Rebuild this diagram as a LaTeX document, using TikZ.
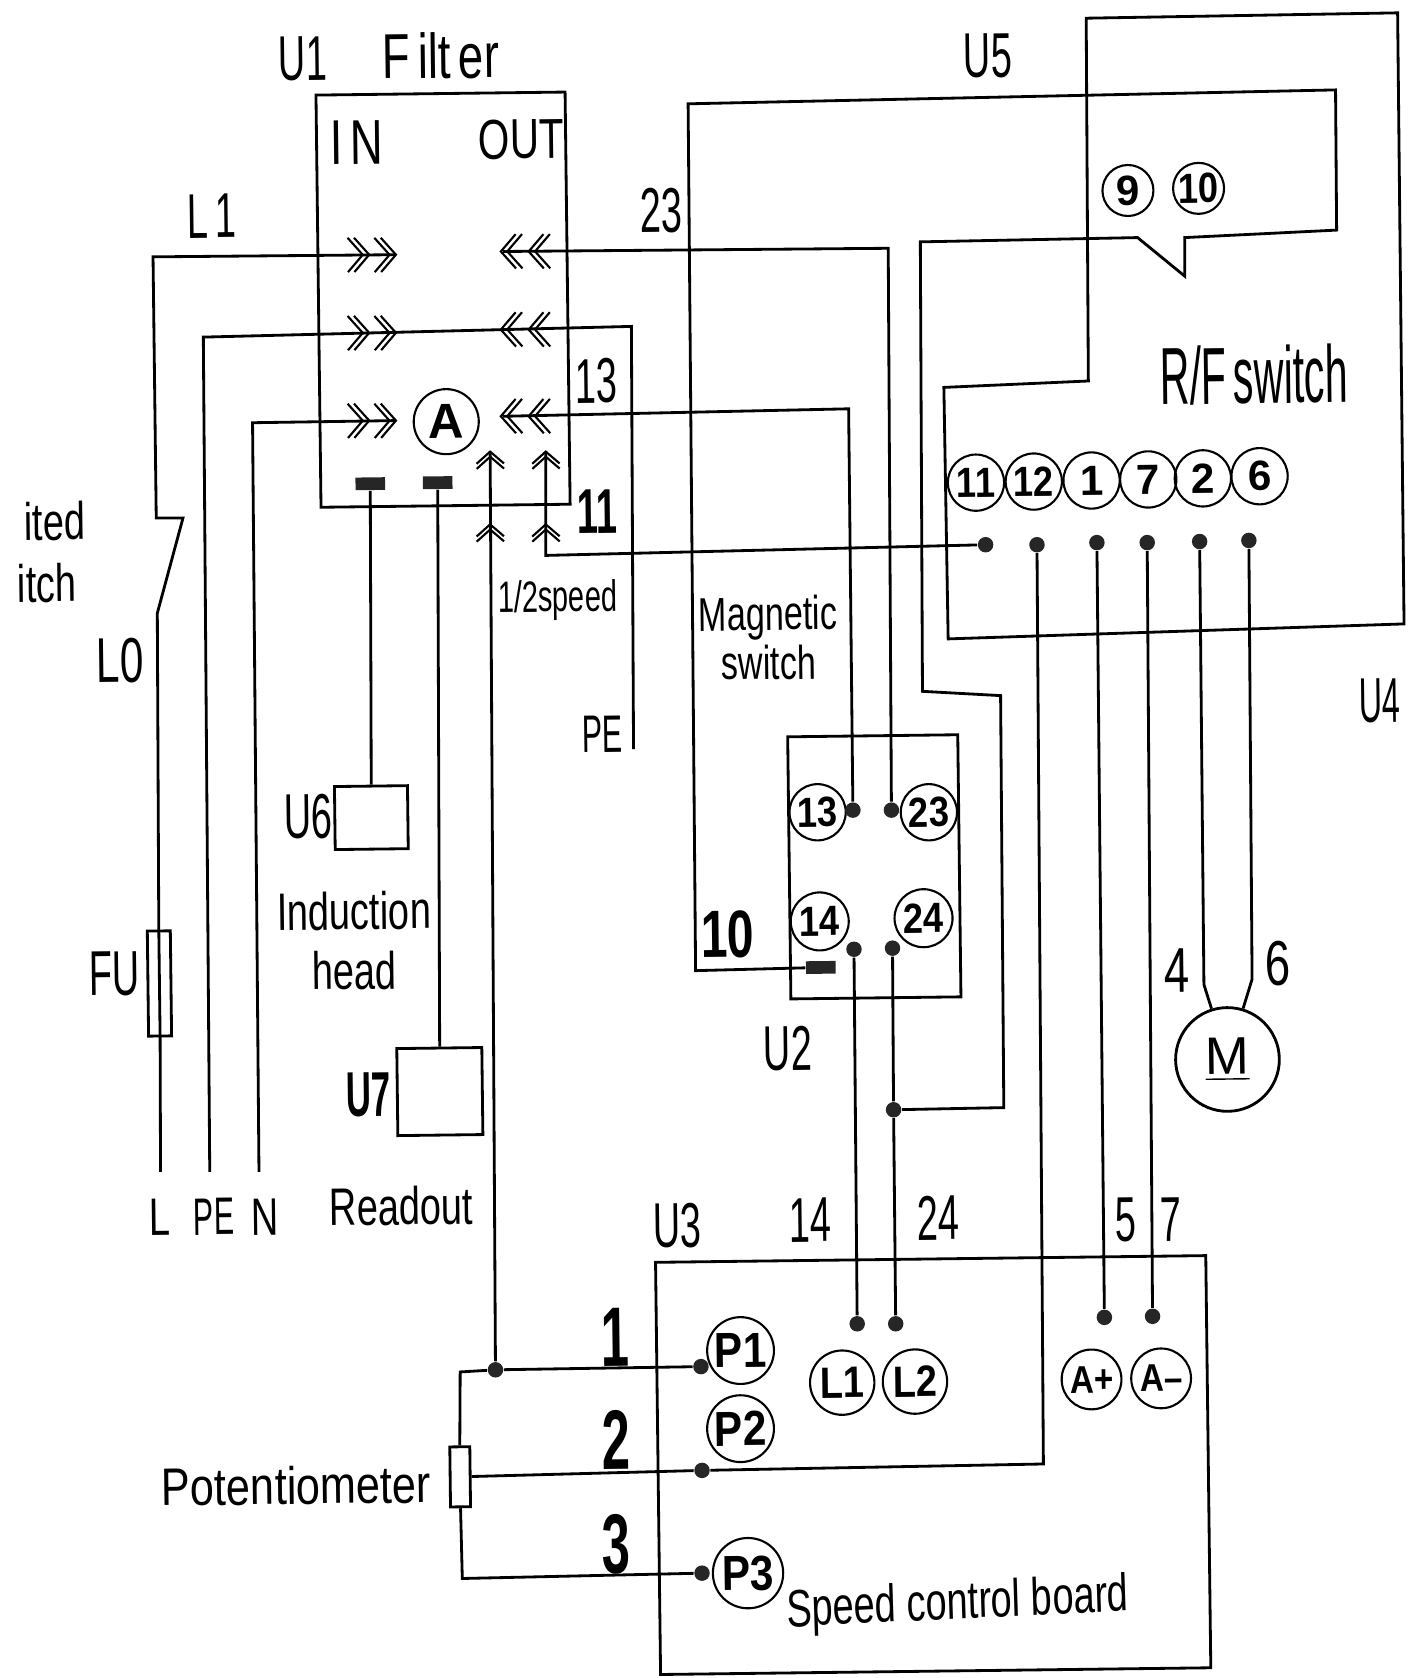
\documentclass[tikz,border=0pt]{standalone}
\usepackage{fontspec}
\setmainfont{Liberation Sans}
\newcommand{\tn}[1]{\scalebox{.86}[1]{#1}}
\tikzset{
  wire/.style={draw,line width=0.8pt},
  boxu/.style={draw,line width=0.8pt,rectangle,inner sep=0pt},
  dot/.style={circle,fill=black!85,inner sep=0pt,minimum size=4.4pt},
  plug/.style={rectangle,fill=black!85,inner sep=0pt,minimum width=8.4pt,minimum height=3.6pt},
  term/.style={draw,circle,line width=0.6pt,inner sep=0pt,minimum size=16pt,font=\fontsize{12}{12}\bfseries},
  termb/.style={term,minimum size=19pt,font=\fontsize{14}{14}\bfseries},
  big/.style={inner sep=0pt,font=\fontsize{18}{18}\selectfont,xscale=.6},
  mid/.style={inner sep=0pt,font=\fontsize{15}{17}\selectfont,xscale=.72,align=center},
  small/.style={inner sep=0pt,font=\fontsize{12.5}{14}\selectfont,xscale=.66,align=center},
  num/.style={inner sep=0pt,font=\fontsize{24}{24}\bfseries,xscale=.6},
  chev/.pic={
    \draw[line width=0.6pt] (-14,-16) -- (0,0) -- (-14,16);
    \draw[line width=0.6pt] (-20,-16) -- (-6,0) -- (-20,16);
  },
}
\begin{document}
\begin{tikzpicture}[x=0.0107cm,y=-0.0107cm,every node/.append style={rotate=0.7}]
\useasboundingbox (0,0) rectangle (1315,1568);
% filter U1
\node[boxu,minimum width=2.49cm,minimum height=4.12cm] (u1) at (414,280) {};
\node[big] (lu1) at (283,55) {U1};
\node[big,xscale=1.2] (lfilter) at (412,52) {F\,ilt\,er};
\node[big,xscale=1.2] (lin) at (333,133) {I\,N};
\node[big,xscale=1.2,font=\fontsize{16}{16}\selectfont] (lout) at (487,130) {OUT};
\node[draw,circle,line width=0.6pt,inner sep=0pt,minimum size=18.5pt,font=\fontsize{14}{14}\bfseries] (ta) at (417,394) {A};
\node[plug] (pl1) at (346,452) {};
\node[plug] (pl2) at (409,451) {};
% left side
\coordinate (cl) at (150,1095);
\coordinate (cpe) at (196,1095);
\coordinate (cn) at (242,1095);
\coordinate (cin1) at (370,238);
\coordinate (cin3) at (370,393);
\coordinate (cpe2) at (592,700);
\node[boxu,minimum width=0.23cm,minimum height=1.05cm] (fu) at (149,919) {};
\path[wire] (cl) -- (fu.south) -- (fu.north) -- (147,573) -- (171,484) -- (146,484) -- (143,240) -- (cin1);
\path[wire] (cpe) -- (190,315) -- (590,305) -- (cpe2);
\path[wire] (cn) -- (236,395) -- (cin3);
\foreach \x in {345,370} {
  \pic at (\x,238) {chev};
  \pic at (\x,311) {chev};
  \pic at (\x,393) {chev};
}
\foreach \x in {468,494} {
  \pic[rotate=180] at (\x,235) {chev};
  \pic[rotate=180] at (\x,308) {chev};
  \pic[rotate=180] at (\x,389) {chev};
}
\foreach \y in {422,490} {
  \pic[rotate=90,scale=.8] at (458,\y) {chev};
  \pic[rotate=90,scale=.8] at (510,\y) {chev};
}
\node[big] (ll1) at (198,202) {L\,1};
\node[big,xscale=1.12] (ll0) at (112,617) {L0};
\node[big] (lfu) at (107,910) {FU};
\node[mid] (llim1) at (51,487) {ited};
\node[mid] (llim2) at (44,545) {itch};
\node[mid] (ll) at (149,1137) {L};
\node[mid,xscale=.8] (lpe) at (200,1137) {PE};
\node[mid] (ln) at (248,1137) {N};
% U6 and U7
\node[boxu,minimum width=0.73cm,minimum height=0.63cm] (u6) at (347,764) {};
\node[boxu,minimum width=0.85cm,minimum height=0.87cm] (u7) at (411,1020) {};
\path[wire] (pl1) -- (u6);
\path[wire] (pl2) -- (u7);
\node[big] (lu6) at (288,763) {U6};
\node[big,xscale=.92,font=\fontsize{18}{18}\bfseries] (lu7) at (344,1023) {U7};
\node[mid] (lind) at (331,879) {Induction\\head};
\node[mid] (lread) at (375,1127) {Readout};
% R/F switch U4
\path[wire] (1015,17) -- (1306,12) -- (1312,583) -- (886,597) -- (882,362) -- (1017,356) -- cycle;
\node[term,minimum size=14.5pt] (t9) at (1054,178) {9};
\node[term,minimum size=14.5pt] (t10) at (1120,176) {\tn{10}};
\node[term] (t11) at (912,451) {\tn{11}};
\node[term] (t12) at (966,450) {\tn{12}};
\node[term] (t1) at (1020,449) {1};
\node[term] (t7) at (1073,448) {7};
\node[term] (t2) at (1124,447) {2};
\node[term] (t6) at (1177,445) {6};
\node[dot] (d11) at (921,509) {};
\node[dot] (d12) at (969,509) {};
\node[dot] (d1) at (1025,507) {};
\node[dot] (d7) at (1072,507) {};
\node[dot] (d2) at (1121,506) {};
\node[dot] (d6) at (1167,505) {};
\node[big,xscale=.85,font=\fontsize{23}{23}\selectfont] (lrf) at (1172,350) {R/F\,switch};
\node[big,xscale=.85] (lu4) at (1289,655) {U4};
\node[big] (lu5) at (923,52) {U5};
% magnetic switch U2
\node[boxu,minimum width=1.7cm,minimum height=2.62cm] (u2) at (817,810) {};
\node[term] (t13) at (764,759) {\tn{13}};
\node[term] (t23) at (868,759) {\tn{23}};
\node[term,minimum size=16.5pt] (t14) at (766,861) {\tn{14}};
\node[term,minimum size=16.5pt] (t24) at (863,858) {\tn{24}};
\node[dot] (d13) at (797,757) {};
\node[dot] (d23) at (833,757) {};
\node[dot] (d14) at (798,887) {};
\node[dot] (d24) at (834,886) {};
\node[plug] (pl10) at (767,904) {};
\node[dot] (dj) at (835,1037) {};
\node[big] (lu2) at (736,980) {U2};
\node[mid,font=\fontsize{13.5}{14}\selectfont] (lmag) at (718,596) {Magnetic\\switch};
% speed control board U3
\node[boxu,minimum width=5.5cm,minimum height=4.12cm] (u3) at (872,1369) {};
\node[termb] (p1) at (692,1262) {\tn{P1}};
\node[termb] (p2) at (692,1335) {\tn{P2}};
\node[termb,minimum size=20pt] (p3) at (699,1470) {\tn{P3}};
\node[termb,minimum size=18.3pt,font=\fontsize{12.5}{14}\bfseries] (tl1) at (787,1292) {\tn{L1}};
\node[termb,minimum size=18.3pt,font=\fontsize{12.5}{14}\bfseries] (tl2) at (855,1291) {\tn{L2}};
\node[term,minimum size=17pt,font=\fontsize{11}{12}\bfseries] (ap) at (1020,1289) {\tn{A+}};
\node[term,minimum size=17pt,font=\fontsize{11}{12}\bfseries] (am) at (1085,1288) {\tn{A--}};
\node[dot] (dl1) at (801,1237) {};
\node[dot] (dl2) at (837,1237) {};
\node[dot] (dap) at (1032,1231) {};
\node[dot] (dam) at (1077,1230) {};
\node[dot] (dp1) at (655,1277) {};
\node[dot] (dp2) at (656,1374) {};
\node[dot] (dp3) at (656,1470) {};
\node[dot] (dj1) at (463,1280) {};
\node[boxu,minimum width=0.2cm,minimum height=0.6cm] (pot) at (430,1380) {};
% motor
\node[draw,circle,line width=0.8pt,inner sep=0pt,minimum size=29.5pt,font=\fontsize{15}{15}\selectfont] (mot) at (1147,990) {\underline{M}};
% wires
\coordinate (co1) at (470,235);
\coordinate (co3) at (470,389);
\coordinate (ca1) at (458,422);
\coordinate (ca2) at (510,422);
\path[wire] (co1) -- (830,232) -- (d23);
\path[wire] (co3) -- (793,382) -- (d13);
\path[wire] (d11) -- (510,519) -- (ca2);
\path[wire] (dj1) -- (ca1);
\path[wire] (pl10) -- (650,907) -- (643,97) -- (1248,84) -- (1249,215) -- (1107,222) -- (1107,258) -- (1063,222) -- (860,226) -- (862,646) -- (935,650) -- (938,1035) -- (dj);
\path[wire] (d14) -- (dl1);
\path[wire] (d24) -- (dj) -- (dl2);
\path[wire] (d1) -- (dap);
\path[wire] (d7) -- (dam);
\path[wire] (d12) -- (975,1368) -- (dp2) -- (pot);
\path[wire] (pot.north) -- (430,1282) -- (dj1) -- (dp1);
\path[wire] (pot.south) -- (432,1475) -- (dp3);
\path[wire] (d2) -- (1125,920) -- (mot);
\path[wire] (d6) -- (1170,915) -- (mot);
% labels
\node[big] (l23) at (618,197) {23};
\node[big] (l13) at (557,356) {13};
\node[big,font=\fontsize{18}{18}\bfseries] (l11) at (558,478) {11};
\node[small] (lhalf) at (521,561) {1/2speed};
\node[mid,xscale=.8] (lpe2) at (563,686) {PE};
\node[num,xscale=1.2,font=\fontsize{19}{19}\bfseries] (l10) at (680,873) {10};
\node[big,xscale=1.2] (l4) at (1100,907) {4};
\node[big,xscale=1.2] (l6) at (1194,900) {6};
\node[big] (lu3) at (633,1145) {U3};
\node[big] (l14) at (757,1140) {14};
\node[big] (l24) at (877,1138) {24};
\node[big] (l5) at (1052,1140) {5};
\node[big] (l7) at (1094,1140) {7};
\node[num] (ln1) at (575,1250) {1};
\node[num] (ln2) at (576,1345) {2};
\node[num] (ln3) at (576,1443) {3};
\node[mid,xscale=1.14] (lpot) at (277,1388) {Potentiometer};
\node[mid,rotate=1.5] (lspeed) at (895,1500) {Speed control board};
\end{tikzpicture}
\end{document}
